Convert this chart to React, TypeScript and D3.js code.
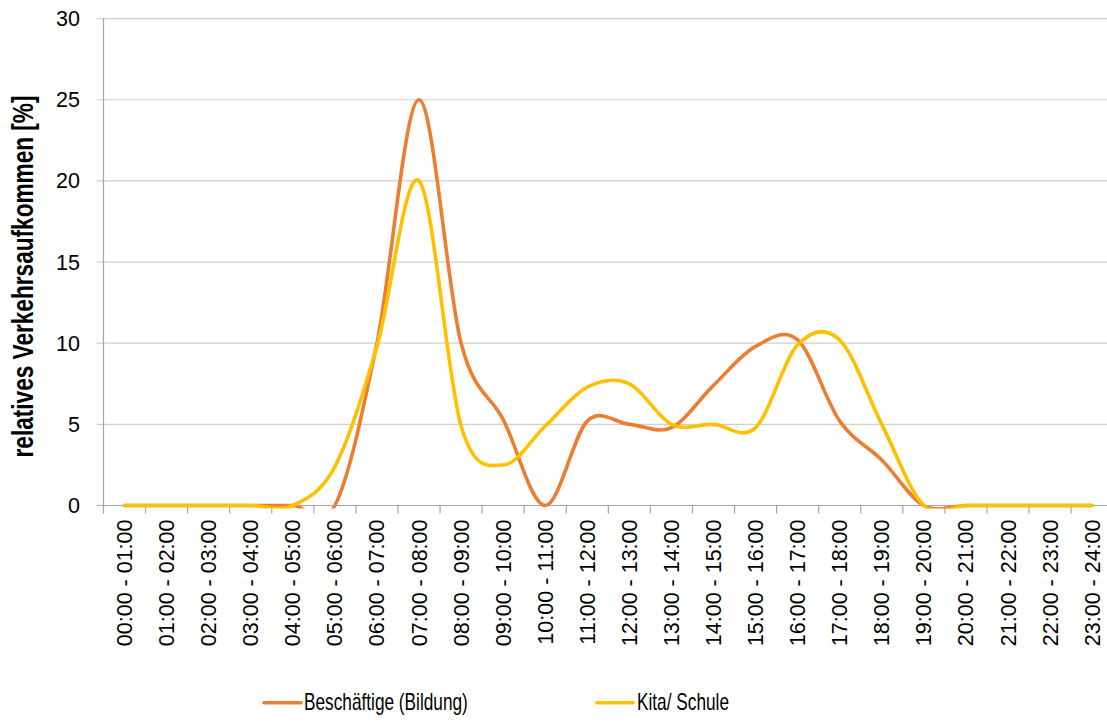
import React from "react";
import * as d3 from "d3";

const categories = [
  "00:00 - 01:00", "01:00 - 02:00", "02:00 - 03:00", "03:00 - 04:00",
  "04:00 - 05:00", "05:00 - 06:00", "06:00 - 07:00", "07:00 - 08:00",
  "08:00 - 09:00", "09:00 - 10:00", "10:00 - 11:00", "11:00 - 12:00",
  "12:00 - 13:00", "13:00 - 14:00", "14:00 - 15:00", "15:00 - 16:00",
  "16:00 - 17:00", "17:00 - 18:00", "18:00 - 19:00", "19:00 - 20:00",
  "20:00 - 21:00", "21:00 - 22:00", "22:00 - 23:00", "23:00 - 24:00",
];

const beschaeftigte = [0, 0, 0, 0, 0, 0, 10, 25, 10, 5.3, 0, 5.2, 5.0, 4.8, 7.4, 9.8, 10.2, 5.2, 2.8, 0, 0, 0, 0, 0];
const kitaSchule = [0, 0, 0, 0, 0, 2.4, 9.8, 20, 4.9, 2.5, 4.9, 7.3, 7.5, 5.0, 5.0, 4.8, 9.9, 10.2, 5.0, 0, 0, 0, 0, 0];

const yTicks = [0, 5, 10, 15, 20, 25, 30];

const seriesNames = ["Beschäftige (Bildung)", "Kita/ Schule"];
const seriesColors = ["#ED7D31", "#FFC000"];

const W = 1107;
const H = 724;
const left = 103.5;
const band = 42.07;
const top = 18.6;
const bottom = 505.5;

export default function App() {
  const x = d3
    .scaleBand<string>()
    .domain(categories)
    .range([left, left + band * categories.length])
    .padding(0);
  const y = d3.scaleLinear().domain([0, 30]).range([bottom, top]);

  const line = d3
    .line<number>()
    .x((_, i) => (x(categories[i]) as number) + x.bandwidth() / 2)
    .y((v) => y(v))
    .curve(d3.curveCardinal.tension(0));

  const series = [beschaeftigte, kitaSchule];
  const tickFont = "'Liberation Sans', Arial, sans-serif";

  const boundaries = categories.map((c) => x(c) as number);

  const legendItems = [
    { x1: 264, x2: 301, tx: 304 },
    { x1: 597, x2: 633, tx: 637 },
  ];

  return (
    <svg
      width={W}
      height={H}
      style={{ position: "absolute", left: 0, top: 0, background: "#fff" }}
    >
      <defs>
        <clipPath id="plotClip">
          <rect x={left} y={0} width={W - left} height={bottom + 3} />
        </clipPath>
      </defs>
      {/* gridlines */}
      {yTicks.map((t) => (
        <line
          key={"g" + t}
          x1={left - 7}
          x2={W}
          y1={y(t)}
          y2={y(t)}
          stroke={t === 0 ? "#a6a6a6" : "#cfcfcf"}
          strokeWidth={1.2}
        />
      ))}
      {/* y axis line */}
      <line x1={left} x2={left} y1={top} y2={bottom} stroke="#a6a6a6" strokeWidth={1.2} />
      {/* x ticks */}
      {boundaries.map((bx, i) => (
        <line key={"xt" + i} x1={bx} x2={bx} y1={bottom} y2={bottom + 8} stroke="#a6a6a6" strokeWidth={1.2} />
      ))}
      {/* y tick labels */}
      {yTicks.map((t) => (
        <text
          key={"yl" + t}
          x={80}
          y={y(t)}
          dy="0.35em"
          textAnchor="end"
          fontFamily={tickFont}
          fontSize={21.5}
          fill="#000"
        >
          {t}
        </text>
      ))}
      {/* x tick labels */}
      {categories.map((c) => {
        const cx = (x(c) as number) + x.bandwidth() / 2;
        return (
          <text
            key={"xl" + c}
            transform={`translate(${cx},${bottom + 14}) rotate(-90)`}
            textAnchor="end"
            dy="0.35em"
            fontFamily={tickFont}
            fontSize={21.5}
            fill="#000"
          >
            {c}
          </text>
        );
      })}
      {/* y title */}
      <text
        transform={`translate(33,${(90 + 463) / 2}) rotate(-90) scale(0.78,1)`}
        textAnchor="middle"
        fontFamily={tickFont}
        fontWeight="bold"
        fontSize={29}
        fill="#000"
      >
        relatives Verkehrsaufkommen [%]
      </text>
      {/* series lines */}
      <g clipPath="url(#plotClip)">
        {series.map((s, i) => (
          <path
            key={"s" + i}
            d={line(s) || ""}
            fill="none"
            stroke={seriesColors[i]}
            strokeWidth={3.6}
            strokeLinecap="round"
            strokeLinejoin="round"
          />
        ))}
      </g>
      {/* legend */}
      {legendItems.map((li, i) => (
        <g key={"lg" + i}>
          <line x1={li.x1} x2={li.x2} y1={702.7} y2={702.7} stroke={seriesColors[i]} strokeWidth={3.6} strokeLinecap="round" />
          <text
            transform={`translate(${li.tx},710) scale(0.75,1)`}
            fontFamily={tickFont}
            fontSize={23}
            fill="#000"
          >
            {seriesNames[i]}
          </text>
        </g>
      ))}
    </svg>
  );
}
